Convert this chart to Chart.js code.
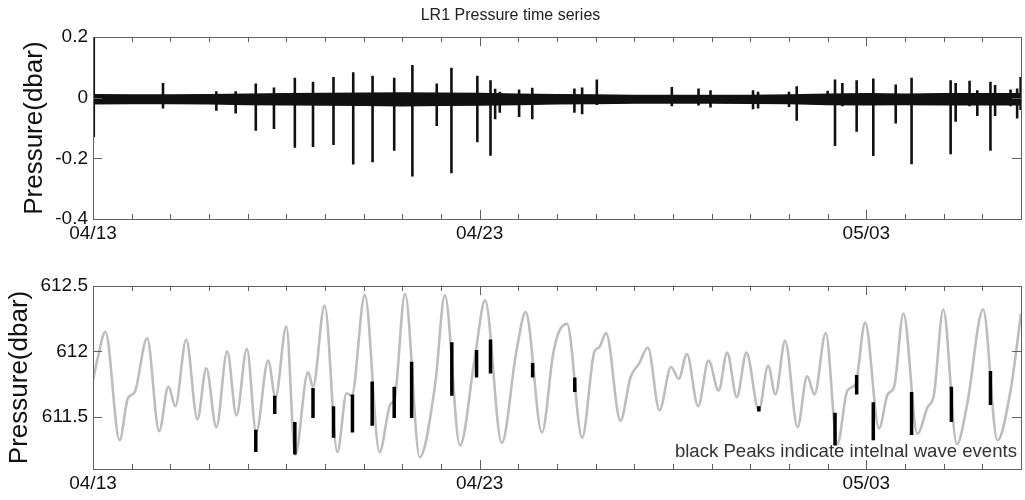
<!DOCTYPE html>
<html>
<head>
<meta charset="utf-8">
<title>LR1 Pressure time series</title>
<script src="https://cdn.jsdelivr.net/npm/chart.js@4.4.1/dist/chart.umd.min.js"></script>
<style>
  body { margin: 0; background: #fff; }
  #wrap { position: relative; width: 1025px; height: 500px; }
  canvas { position: absolute; left: 0; }
</style>
</head>
<body>
<div id="wrap">
  <canvas id="topChart" width="1025" height="250" style="top:0"></canvas>
  <canvas id="bottomChart" width="1025" height="250" style="top:250px"></canvas>
</div>
<script>
// x values are days since 04/13
const xTickDays = [0, 10, 20];
const xTickLabels = ['04/13', '04/23', '05/03'];
const topYTicks = [-0.4, -0.2, 0, 0.2];
const bottomYTicks = [611.5, 612, 612.5];

// top panel: background noise envelope (per day)
const bandDays = [0, 1, 2, 3, 4, 5, 6, 7, 8, 9, 10, 11, 12, 13, 14, 15, 16, 17, 18, 19, 20, 21, 22, 23, 24];
const bandHigh = [0.010, 0.009, 0.009, 0.010, 0.012, 0.013, 0.014, 0.015, 0.016, 0.015, 0.014, 0.012, 0.010,
                  0.009, 0.008, 0.008, 0.008, 0.008, 0.009, 0.012, 0.013, 0.012, 0.013, 0.013, 0.013];
const bandLow = [-0.020, -0.019, -0.019, -0.020, -0.022, -0.023, -0.024, -0.025, -0.026, -0.025, -0.024, -0.022, -0.020,
                 -0.019, -0.017, -0.017, -0.017, -0.018, -0.019, -0.022, -0.023, -0.022, -0.023, -0.023, -0.023];

// top panel: spikes
const spikeDays = [0.02, 1.81, 3.19, 3.69, 4.21, 4.68, 5.22, 5.69, 6.22, 6.73, 7.23, 7.79, 8.26, 8.89, 9.27, 9.94,
                   10.28, 10.40, 10.52, 11.02, 11.36, 12.45, 12.65, 13.03, 14.97, 15.66, 15.97, 17.07, 17.20, 18.00,
                   18.20, 19.00, 19.19, 19.38, 19.75, 20.18, 20.76, 21.17, 22.18, 22.31, 22.67, 22.87, 23.21, 23.33,
                   23.73, 23.90, 23.99];
const spikeHigh = [0.200, 0.049, 0.022, 0.022, 0.047, 0.034, 0.066, 0.053, 0.069, 0.084, 0.073, 0.066, 0.108, 0.047, 0.099, 0.073,
                   0.058, 0.030, 0.020, 0.027, 0.033, 0.031, 0.034, 0.060, 0.036, 0.031, 0.025, 0.025, 0.020, 0.020,
                   0.038, 0.023, 0.060, 0.049, 0.058, 0.064, 0.044, 0.066, 0.058, 0.049, 0.056, 0.025, 0.053, 0.042,
                   0.027, 0.031, 0.069];
const spikeLow = [-0.130, -0.035, -0.043, -0.052, -0.109, -0.103, -0.165, -0.162, -0.156, -0.220, -0.213, -0.175, -0.260, -0.093, -0.249, -0.147,
                  -0.191, -0.071, -0.049, -0.063, -0.071, -0.049, -0.054, -0.024, -0.028, -0.025, -0.032, -0.038, -0.035, -0.030,
                  -0.076, -0.020, -0.159, -0.028, -0.112, -0.192, -0.085, -0.219, -0.186, -0.079, -0.028, -0.060, -0.175, -0.060,
                  -0.028, -0.068, -0.040];

// bottom panel: tidal pressure
const tideDays = [0.00, 0.13, 0.32, 0.69, 0.90, 1.08, 1.40, 1.71, 1.95, 2.13, 2.41, 2.70, 2.93, 3.19, 3.47, 3.71, 3.98,
                  4.22, 4.53, 4.72, 5.00, 5.23, 5.56, 5.69, 5.99, 6.32, 6.56, 6.69, 7.03, 7.41, 7.70, 7.79, 8.07, 8.45,
                  8.85, 9.10, 9.49, 9.88, 10.14, 10.57, 10.95, 11.19, 11.61, 11.90, 12.05, 12.26, 12.65, 12.97, 13.09,
                  13.27, 13.64, 13.90, 14.13, 14.35, 14.65, 14.95, 15.15, 15.36, 15.65, 15.92, 16.18, 16.40, 16.65,
                  16.90, 17.22, 17.46, 17.65, 17.90, 18.22, 18.47, 18.66, 18.95, 19.25, 19.51, 19.72, 19.97, 20.33,
                  20.55, 20.72, 20.96, 21.32, 21.58, 21.75, 21.99, 22.34, 22.61, 23.02, 23.39, 23.73, 24.00];
const tideValues = [611.78, 611.96, 612.15, 611.32, 611.64, 611.69, 612.10, 611.39, 611.73, 611.58, 612.09, 611.48, 611.87, 611.42, 612.00, 611.51, 612.02,
                    611.38, 611.93, 611.65, 612.19, 611.21, 611.84, 611.73, 612.35, 611.23, 611.68, 611.66, 612.43, 611.23, 611.60, 611.62, 612.44, 611.19,
                    611.75, 612.43, 611.28, 611.96, 612.39, 611.30, 612.00, 612.30, 611.38, 611.98, 612.15, 612.21, 611.34, 612.00, 612.03,
                    612.14, 611.47, 611.80, 611.91, 612.03, 611.55, 611.88, 611.79, 611.98, 611.58, 611.93, 611.70, 611.99, 611.65,
                    611.99, 611.55, 611.89, 611.67, 612.08, 611.42, 611.81, 611.67, 612.14, 611.29, 611.70, 611.75, 612.22, 611.41,
                    611.67, 611.73, 612.29, 611.37, 611.57, 611.67, 612.32, 611.29, 611.60, 612.32, 611.32, 611.70, 612.29];

// bottom panel: internal wave events (black)
const eventDays = [4.21, 4.70, 5.22, 5.69, 6.22, 6.71, 7.22, 7.79, 8.24, 9.28, 9.92, 10.28, 11.37, 12.46, 17.22,
                   19.19, 19.75, 20.18, 21.17, 22.20, 23.21];
const eventHigh = [611.40, 611.66, 611.46, 611.72, 611.58, 611.67, 611.77, 611.73, 611.92, 612.07, 612.01, 612.09, 611.91, 611.80, 611.58,
                   611.53, 611.82, 611.61, 611.69, 611.73, 611.85];
const eventLow = [611.23, 611.52, 611.21, 611.49, 611.34, 611.38, 611.43, 611.49, 611.49, 611.66, 611.80, 611.83, 611.80, 611.69, 611.54,
                  611.28, 611.67, 611.32, 611.36, 611.46, 611.59];

Chart.defaults.font.family = "'Liberation Sans', Arial, sans-serif";
Chart.defaults.color = '#111';

function verticalSegments(days, hi, lo) {
  const out = [];
  days.forEach((d, i) => {
    out.push({ x: d, y: hi[i] }, { x: d, y: lo[i] }, { x: d, y: null });
  });
  return out;
}

function boxTicks(yTicks) {
  return {
    id: 'boxTicks',
    afterDatasetsDraw(chart) {
      const { ctx, chartArea: a, scales: { x, y } } = chart;
      ctx.save();
      ctx.strokeStyle = '#606060';
      ctx.lineWidth = 1;
      ctx.beginPath();
      for (let d = 0; d <= 24; d++) {
        const px = Math.round(x.getPixelForValue(d)) + 0.5;
        const len = xTickDays.includes(d) ? 9 : 5;
        ctx.moveTo(px, a.bottom); ctx.lineTo(px, a.bottom - len);
        ctx.moveTo(px, a.top); ctx.lineTo(px, a.top + len);
      }
      yTicks.forEach(v => {
        const py = Math.round(y.getPixelForValue(v)) + 0.5;
        ctx.moveTo(a.left, py); ctx.lineTo(a.left + 9, py);
        ctx.moveTo(a.right, py); ctx.lineTo(a.right - 9, py);
      });
      ctx.stroke();
      ctx.strokeRect(Math.round(a.left) + 0.5, Math.round(a.top) + 0.5, Math.round(a.width), Math.round(a.height));
      ctx.restore();
    }
  };
}

function xScale() {
  return {
    type: 'linear', min: 0, max: 24,
    grid: { display: false, drawTicks: false },
    border: { display: false },
    afterBuildTicks: s => { s.ticks = xTickDays.map(v => ({ value: v })); },
    afterFit: s => { s.height = 31; },
    ticks: {
      autoSkip: false, maxRotation: 0, padding: 3, font: { size: 19 },
      callback: v => xTickLabels[xTickDays.indexOf(v)]
    }
  };
}

function yScale(min, max, ticks, titlePad, fmt) {
  return {
    type: 'linear', min: min, max: max,
    grid: { display: false, drawTicks: false },
    border: { display: false },
    afterBuildTicks: s => { s.ticks = ticks.map(v => ({ value: v })); },
    afterFit: s => { s.width = 93; },
    ticks: { autoSkip: false, padding: 5, font: { size: 19 }, callback: fmt },
    title: { display: true, text: 'Pressure(dbar)', font: { size: 26 }, padding: { top: titlePad, bottom: 0 } }
  };
}

new Chart(document.getElementById('topChart'), {
  type: 'line',
  data: {
    datasets: [
      {
        data: verticalSegments(spikeDays, spikeHigh, spikeLow),
        borderColor: '#111', borderWidth: 2.6, pointRadius: 0, tension: 0, spanGaps: false
      },
      {
        data: bandDays.map((d, i) => ({ x: d, y: bandHigh[i] })),
        borderColor: '#111', backgroundColor: '#111', borderWidth: 1.5, pointRadius: 0, tension: 0, fill: '+1'
      },
      {
        data: bandDays.map((d, i) => ({ x: d, y: bandLow[i] })),
        borderColor: '#111', borderWidth: 1.5, pointRadius: 0, tension: 0, fill: false
      }
    ]
  },
  options: {
    responsive: false,
    animation: false,
    layout: { padding: { left: 0, right: 4, top: 0, bottom: 0 } },
    plugins: {
      legend: { display: false },
      tooltip: { enabled: false },
      title: {
        display: true, text: 'LR1 Pressure time series', color: '#222',
        font: { size: 16, weight: 'normal' }, padding: { top: 6, bottom: 12 }
      }
    },
    scales: {
      x: xScale(),
      y: yScale(-0.4, 0.2, topYTicks, 19, v => String(+v.toFixed(1)))
    }
  },
  plugins: [boxTicks(topYTicks)]
});

const noteText = {
  id: 'noteText',
  afterDraw(chart) {
    const { ctx, chartArea: a } = chart;
    ctx.save();
    ctx.font = "18.6px 'Liberation Sans', Arial, sans-serif";
    ctx.fillStyle = '#333';
    ctx.textAlign = 'right';
    ctx.textBaseline = 'alphabetic';
    ctx.fillText('black Peaks indicate intelnal wave events', a.right - 4, a.bottom - 12);
    ctx.restore();
  }
};

new Chart(document.getElementById('bottomChart'), {
  type: 'line',
  data: {
    datasets: [
      {
        data: verticalSegments(eventDays, eventHigh, eventLow),
        borderColor: '#000', borderWidth: 3.5, pointRadius: 0, tension: 0, spanGaps: false
      },
      {
        data: tideDays.map((d, i) => ({ x: d, y: tideValues[i] })),
        borderColor: '#bdbdbd', borderWidth: 2.6, pointRadius: 0, cubicInterpolationMode: 'monotone'
      }
    ]
  },
  options: {
    responsive: false,
    animation: false,
    layout: { padding: { left: 0, right: 4, top: 36, bottom: 0 } },
    plugins: {
      legend: { display: false },
      tooltip: { enabled: false }
    },
    scales: {
      x: xScale(),
      y: yScale(611.1, 612.5, bottomYTicks, 4, v => String(v))
    }
  },
  plugins: [boxTicks(bottomYTicks), noteText]
});
</script>
</body>
</html>
